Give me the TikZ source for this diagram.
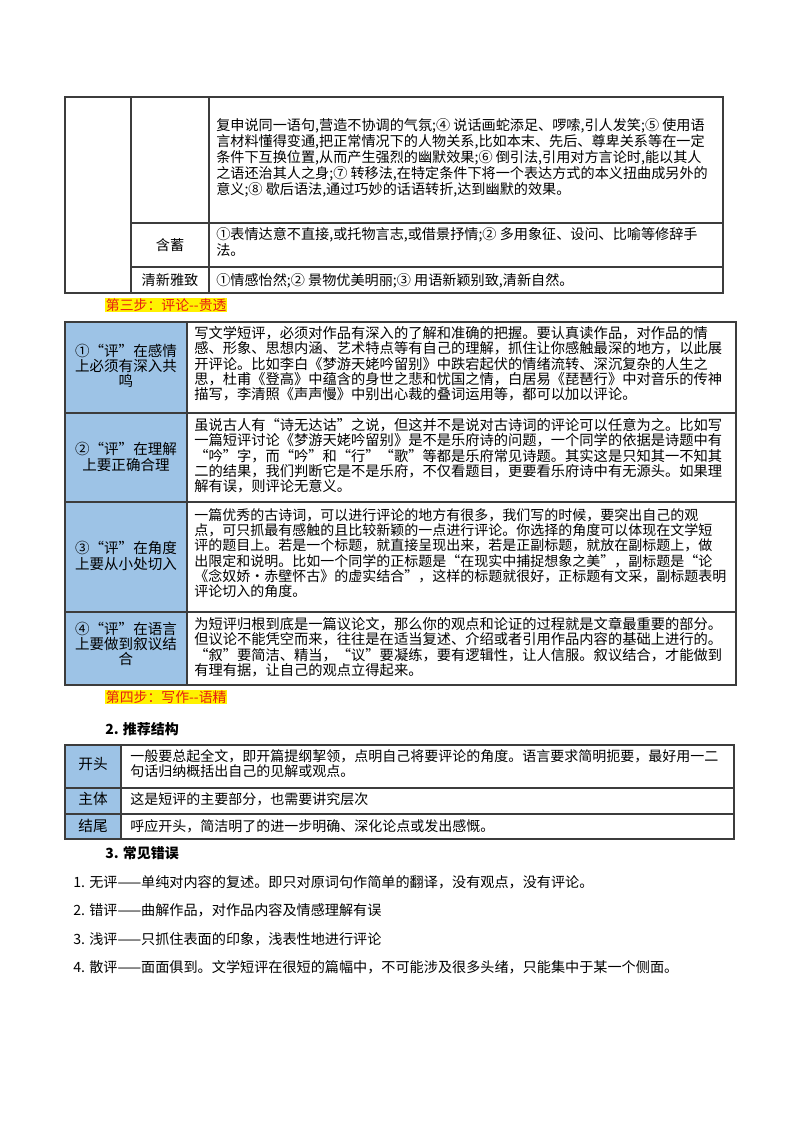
\documentclass[tikz,border=0pt]{standalone}
\usepackage{fontspec}
\setmainfont{Noto Sans CJK SC}
\definecolor{cellblue}{RGB}{157,195,230}
\definecolor{gridc}{RGB}{60,60,60}
\definecolor{stepred}{RGB}{230,30,20}
\begin{document}
\begin{tikzpicture}[x=0.75pt,y=-0.75pt,
  grid/.style={draw=gridc,line width=0.9pt},
  ta/.style={anchor=north west,inner sep=0pt,align=left,font=\fontsize{10.6pt}{12pt}\selectfont},
  tb/.style={anchor=north west,inner sep=0pt,align=left,font=\fontsize{10.7pt}{11.5pt}\selectfont},
  tbl/.style={inner sep=0pt,align=center,font=\fontsize{10.9pt}{11.5pt}\selectfont},
  tc/.style={anchor=north west,inner sep=0pt,align=left,font=\fontsize{10.5pt}{11.25pt}\selectfont},
  tcl/.style={inner sep=0pt,font=\fontsize{11pt}{12pt}\selectfont},
  stephead/.style={anchor=west,inner sep=0.5pt,fill=yellow,text=stepred,font=\fontsize{10.4pt}{11pt}\selectfont},
  sechead/.style={anchor=west,inner sep=0pt,font=\fontsize{10.5pt}{12pt}\selectfont\bfseries},
  listitem/.style={anchor=west,inner sep=0pt,font=\fontsize{10.6pt}{12pt}\selectfont}]
\useasboundingbox[fill=white] (0,0) rectangle (800,1132);
% ---------- table 1
\draw[grid] (65,97) rectangle (723,293);
\draw[grid] (131,97) -- (131,293);
\draw[grid] (209,97) -- (209,293);
\draw[grid] (131,223) -- (723,223);
\draw[grid] (131,267) -- (723,267);
\node[ta] (t1a) at (216,118) {复申说同一语句,营造不协调的气氛;④ 说话画蛇添足、啰嗦,引人发笑;⑤ 使用语\\言材料懂得变通,把正常情况下的人物关系,比如本末、先后、尊卑关系等在一定\\条件下互换位置,从而产生强烈的幽默效果;⑥ 倒引法,引用对方言论时,能以其人\\之语还治其人之身;⑦ 转移法,在特定条件下将一个表达方式的本义扭曲成另外的\\意义;⑧ 歇后语法,通过巧妙的话语转折,达到幽默的效果。};
\node[ta,anchor=center] (t1l1) at (170,245) {含蓄};
\node[ta] (t1b) at (216,227) {①表情达意不直接,或托物言志,或借景抒情;② 多用象征、设问、比喻等修辞手\\法。};
\node[ta,anchor=center] (t1l2) at (170,280) {清新雅致};
\node[ta] (t1c) at (216,273) {①情感怡然;② 景物优美明丽;③ 用语新颖别致,清新自然。};
% ---------- step 3
\node[stephead] (s3) at (105,305) {第三步：评论-{}-贵透};
% ---------- table 2
\fill[cellblue] (65,322) rectangle (187,685);
\draw[grid] (65,322) rectangle (736,685);
\draw[grid] (187,322) -- (187,685);
\draw[grid] (65,413) -- (736,413);
\draw[grid] (65,502) -- (736,502);
\draw[grid] (65,612) -- (736,612);
\node[tbl] (l1) at (126,366) {①“评”在感情\\上必须有深入共\\鸣};
\node[tb] (r1) at (194,326) {写文学短评，必须对作品有深入的了解和准确的把握。要认真读作品，对作品的情\\感、形象、思想内涵、艺术特点等有自己的理解，抓住让你感触最深的地方，以此展\\开评论。比如李白《梦游天姥吟留别》中跌宕起伏的情绪流转、深沉复杂的人生之\\思，杜甫《登高》中蕴含的身世之悲和忧国之情，白居易《琵琶行》中对音乐的传神\\描写，李清照《声声慢》中别出心裁的叠词运用等，都可以加以评论。};
\node[tbl] (l2) at (126,457) {②“评”在理解\\上要正确合理};
\node[tb] (r2) at (194,418) {虽说古人有“诗无达诂”之说，但这并不是说对古诗词的评论可以任意为之。比如写\\一篇短评讨论《梦游天姥吟留别》是不是乐府诗的问题，一个同学的依据是诗题中有\\“吟”字，而“吟”和“行”“歌”等都是乐府常见诗题。其实这是只知其一不知其\\二的结果，我们判断它是不是乐府，不仅看题目，更要看乐府诗中有无源头。如果理\\解有误，则评论无意义。};
\node[tbl] (l3) at (126,556) {③“评”在角度\\上要从小处切入};
\node[tb,font=\fontsize{10.5pt}{11.5pt}\selectfont] (r3) at (194,508) {一篇优秀的古诗词，可以进行评论的地方有很多，我们写的时候，要突出自己的观\\点，可只抓最有感触的且比较新颖的一点进行评论。你选择的角度可以体现在文学短\\评的题目上。若是一个标题，就直接呈现出来，若是正副标题，就放在副标题上，做\\出限定和说明。比如一个同学的正标题是“在现实中捕捉想象之美”，副标题是“论\\《念奴娇·赤壁怀古》的虚实结合”，这样的标题就很好，正标题有文采，副标题表明\\评论切入的角度。};
\node[tbl] (l4) at (126,644) {④“评”在语言\\上要做到叙议结\\合};
\node[tb] (r4) at (194,617) {为短评归根到底是一篇议论文，那么你的观点和论证的过程就是文章最重要的部分。\\但议论不能凭空而来，往往是在适当复述、介绍或者引用作品内容的基础上进行的。\\“叙”要简洁、精当，“议”要凝练，要有逻辑性，让人信服。叙议结合，才能做到\\有理有据，让自己的观点立得起来。};
% ---------- step 4
\node[stephead] (s4) at (105,697) {第四步：写作-{}-语精};
\node[sechead] (h2) at (105,729) {2. 推荐结构};
% ---------- table 3
\fill[cellblue] (65,745) rectangle (121,839);
\draw[grid] (65,745) rectangle (734,839);
\draw[grid] (121,745) -- (121,839);
\draw[grid] (65,788) -- (734,788);
\draw[grid] (65,814) -- (734,814);
\node[tcl] (k1) at (93,764) {开头};
\node[tc] (v1) at (130,749) {一般要总起全文，即开篇提纲挈领，点明自己将要评论的角度。语言要求简明扼要，最好用一二\\句话归纳概括出自己的见解或观点。};
\node[tcl] (k2) at (93,799) {主体};
\node[tc,anchor=west] (v2) at (130,799) {这是短评的主要部分，也需要讲究层次};
\node[tcl] (k3) at (93,826) {结尾};
\node[tc,anchor=west] (v3) at (130,826) {呼应开头，简洁明了的进一步明确、深化论点或发出感慨。};
\node[sechead] (h3) at (105,853) {3. 常见错误};
% ---------- list
\node[listitem] (e1) at (73,882) {1. 无评——单纯对内容的复述。即只对原词句作简单的翻译，没有观点，没有评论。};
\node[listitem] (e2) at (73,910) {2. 错评——曲解作品，对作品内容及情感理解有误};
\node[listitem] (e3) at (73,939) {3. 浅评——只抓住表面的印象，浅表性地进行评论};
\node[listitem] (e4) at (73,967) {4. 散评——面面俱到。文学短评在很短的篇幅中，不可能涉及很多头绪，只能集中于某一个侧面。};
\end{tikzpicture}
\end{document}
